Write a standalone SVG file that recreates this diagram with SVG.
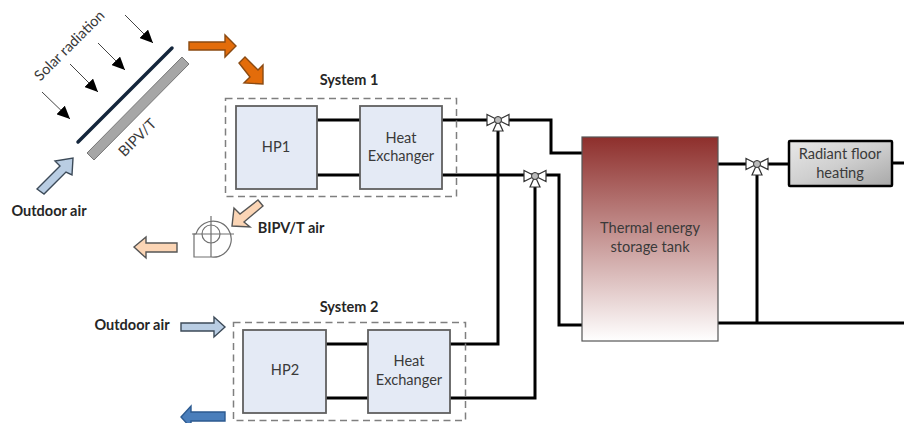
<svg xmlns="http://www.w3.org/2000/svg" width="904" height="423" viewBox="0 0 904 423">
<style>
text{font-family:Lato,"Open Sans","Liberation Sans",sans-serif;fill:#3a3a3a;font-size:14.600px;text-anchor:middle}
.b{font-weight:700;font-size:14.500px;fill:#262626}
.dash{fill:none;stroke:#7f7f7f;stroke-width:1.5;stroke-dasharray:7 4.5}
.hp{fill:#e4eaf5;stroke:#606060;stroke-width:1.8}
.pipe{fill:none;stroke:#000;stroke-width:3}
.sun{stroke:#444;stroke-width:1;marker-end:url(#tip)}
.ar{stroke-width:1.4;stroke-linejoin:miter}
.or{fill:#e36c0a;stroke:#8a4a12}
.lb{fill:#b9cde3;stroke:#3c4a58}
.pc{fill:#fbd5b5;stroke:#555}
.bl{fill:#4a7ebb;stroke:#2c5a90}
.fan{fill:none;stroke:#707070;stroke-width:1.2}
.v{fill:#fff;stroke:#333;stroke-width:1.2}
</style>
<defs>
<marker id="tip" markerUnits="userSpaceOnUse" markerWidth="14" markerHeight="12" refX="13" refY="6" orient="auto"><path d="M0 0L13 6L0 12z" fill="#000"/></marker>
<linearGradient id="tank" x1="0" y1="0" x2="0" y2="1"><stop offset="0" stop-color="#8e2f2c"/><stop offset="1" stop-color="#fff"/></linearGradient>
<linearGradient id="rad" x1="0" y1="0" x2="1" y2="1"><stop offset="0" stop-color="#e8e8e8"/><stop offset=".5" stop-color="#cfcfcf"/><stop offset="1" stop-color="#a8a8a8"/></linearGradient>
<g id="valve"><path class="v" d="M0 0L-11 -5.500V5.500zM0 0L11 -5.500V5.500zM0 0L-5 11H5z"/><circle r="3.500" fill="#bbb" stroke="#333"/></g>
</defs>
<g id="connectors">
<path class="pipe" d="M442 120H551V153H582"/>
<path class="pipe" d="M442 175H559V325H582"/>
<path class="pipe" d="M450 344H498V120"/>
<path class="pipe" d="M450 398H535V176"/>
<path class="pipe" d="M718 164H790"/>
<path class="pipe" d="M757 164V323"/>
<path class="pipe" d="M718 323H904"/>
<path class="pipe" d="M892 163H904"/>
<path class="pipe" d="M317 120H360M317 175H360M326 344H368M326 398H368"/>
<line class="sun" x1="42" y1="92" x2="70" y2="119"/>
<line class="sun" x1="70" y1="64" x2="98" y2="92"/>
<line class="sun" x1="98" y1="43" x2="125" y2="70"/>
<line class="sun" x1="125" y1="15" x2="153" y2="43"/>
</g>
<g id="bipvt">
<line x1="78" y1="142" x2="172" y2="48" stroke="#14263c" stroke-width="3.500" stroke-linecap="round"/>
<path d="M87 153L182 57L189 64L94 160z" fill="#a6a6a6" stroke="#777"/>
<text x="141" y="141" transform="rotate(-45 141 141)">BIPV/T</text>
<text x="73" y="49" transform="rotate(-45 73 49)">Solar radiation</text>
</g>
<g id="air-arrows">
<path class="ar or" d="M189 42H225V35L236 46L225 57V50H189z"/>
<path class="ar or" d="M239 63L245 57L258 70L263 65L263 84L244 83L250 77z"/>
<path class="ar lb" d="M37 189L60 166L55 161L73 158L72 175L66 172L44 194z"/>
<path class="ar pc" d="M258 200L263 206L244 222L250 227L232 226L234 208L240 214z"/>
<path class="ar pc" d="M177 243H146V237L134 247L146 258V252H177z"/>
<path class="ar lb" d="M181 323H214V317L225 327L214 337V331H181z"/>
<path class="ar bl" d="M225 412H191V406L181 417L191 428V421H225z"/>
</g>
<g id="fan">
<circle class="fan" cx="211" cy="234" r="9"/>
<path class="fan" d="M196 234A18 18 0 1 1 211 257H194V234H196"/>
<path class="fan" d="M192 234H234M211 216V257"/>
</g>
<g id="system1">
<rect class="dash" x="225.500" y="98.500" width="231" height="98"/>
<text class="b" x="349" y="85">System 1</text>
</g>
<g id="hp1"><rect class="hp" x="236" y="106" width="81" height="83"/><text x="276" y="152">HP1</text></g>
<g id="hx1"><rect class="hp" x="360" y="106" width="82" height="83"/><text x="401" y="143">Heat</text><text x="401" y="161">Exchanger</text></g>
<g id="system2">
<rect class="dash" x="233.500" y="322.500" width="232" height="98"/>
<text class="b" x="349" y="312">System 2</text>
</g>
<g id="hp2"><rect class="hp" x="243" y="330" width="83" height="83"/><text x="285" y="375">HP2</text></g>
<g id="hx2"><rect class="hp" x="368" y="330" width="82" height="83"/><text x="409" y="366">Heat</text><text x="409" y="385">Exchanger</text></g>
<g id="tank-node"><rect x="582" y="137" width="136" height="204" fill="url(#tank)" stroke="#555" stroke-width="1.200"/><text x="650" y="233">Thermal energy</text><text x="650" y="252">storage tank</text></g>
<g id="radiant"><rect x="789" y="141" width="103" height="45" rx="1" fill="url(#rad)" stroke="#000" stroke-width="2.500"/><text x="840" y="159">Radiant floor</text><text x="840" y="178">heating</text></g>
<g id="valve1"><use href="#valve" x="498" y="120"/></g>
<g id="valve2"><use href="#valve" x="535" y="176"/></g>
<g id="valve3"><use href="#valve" x="757" y="164"/></g>
<g id="labels">
<text class="b" x="49" y="216">Outdoor air</text>
<text class="b" x="291" y="233">BIPV/T air</text>
<text class="b" x="132" y="330">Outdoor air</text>
</g>
</svg>
